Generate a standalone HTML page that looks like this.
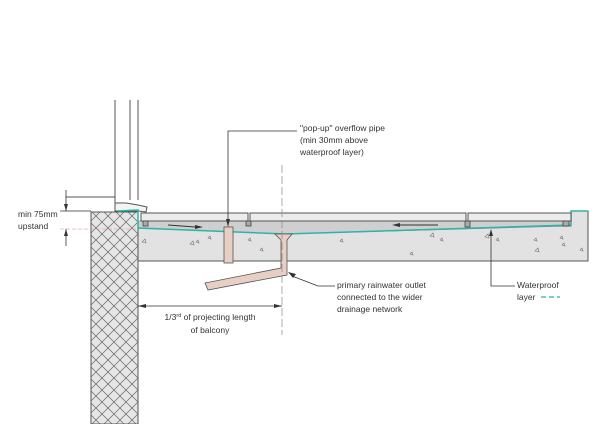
<!DOCTYPE html>
<html><head><meta charset="utf-8"><style>
html,body{margin:0;padding:0;background:#fff;}
svg{display:block;}
text{font-family:"Liberation Sans",sans-serif;font-size:8.5px;fill:#333;}
</style></head><body>
<svg width="601" height="424" viewBox="0 0 601 424" xmlns="http://www.w3.org/2000/svg">
<defs>
<pattern id="hx" width="12" height="12" patternUnits="userSpaceOnUse">
<rect width="12" height="12" fill="#e6e6e6"/>
<path d="M0 0L12 12M12 0L0 12" stroke="#666" stroke-width="0.7"/>
</pattern>
</defs>
<!-- window frame -->
<g stroke="#555" stroke-width="1" fill="none">
<line x1="115" y1="100" x2="115" y2="197"/>
<line x1="130" y1="100" x2="130" y2="200"/>
<line x1="138" y1="100" x2="138" y2="200"/>
<line x1="66" y1="197" x2="115" y2="197"/>
<path d="M115 197 L115 203 L126 203 L138 205 L147 207 L146 212 L138 211 L115 211 Z" fill="#f4f4f4"/>
</g>
<!-- wall -->
<rect x="91" y="212" width="47" height="212" fill="url(#hx)" stroke="#555" stroke-width="1"/>
<line x1="60" y1="229" x2="138" y2="229" stroke="#d88" stroke-width="0.6" stroke-dasharray="4,2"/>
<!-- slab -->
<path d="M138 228 L571 226 L571 211 L588 211 L588 261 L138 261 Z" fill="#e2e2e2" stroke="#555" stroke-width="1"/>
<!-- screed wedge -->
<path d="M138 221 L571 221 L571 226 L285 234 L138 228 Z" fill="#cfcfcf" stroke="#777" stroke-width="0.6"/>
<!-- waterproof -->
<path d="M118 211 L138 210 L138 228 L285 234 L571 225 L571 211 L588 211" fill="none" stroke="#2bb5a8" stroke-width="1.5"/>
<!-- paving -->
<g fill="#ececec" stroke="#555" stroke-width="1">
<rect x="141" y="213" width="107" height="8"/>
<rect x="250" y="213" width="216" height="8"/>
<rect x="468" y="213" width="103" height="8"/>
</g>
<g fill="#aaa" stroke="#444" stroke-width="0.8">
<rect x="143" y="221" width="5" height="5"/>
<rect x="246" y="221" width="5" height="5"/>
<rect x="465" y="221" width="5" height="6"/>
<rect x="563" y="221" width="6" height="5"/>
</g>
<!-- flow arrows -->
<line x1="168" y1="225" x2="195" y2="227" stroke="#333"/><path d="M195 225 L203 227 L195 229Z" fill="#333"/>
<line x1="400" y1="225" x2="438" y2="225" stroke="#333"/><path d="M400 223 L392 225 L400 227Z" fill="#333"/>
<!-- aggregate marks -->
<g fill="none" stroke="#777" stroke-width="0.6">
<path d="M142 242l3 -3l1 4z M190 244l3-3l1 4z M196 242l2-2l1 3z M208 238l2-2l1 3z M248 240l2-2l1 3z M260 250l2-2l1 3z M340 241l2-2l1 3z M430 236l3-3l1 4z M440 240l2-2l1 3z M485 237l3-3l1 4z M496 240l2-2l1 3z M534 240l2-2l1 3z M535 251l3-3l1 4z M562 245l2-2l1 3z M580 250l2-2l1 3z M410 254l2-2l1 3z M560 238l2-2l1 3z"/>
</g>
<!-- pop-up pipe -->
<rect x="224" y="227" width="9" height="36" fill="#e8cfc6" stroke="#555" stroke-width="0.8"/>
<!-- outlet -->
<path d="M275 234 L292 234 L287 240 L287 275 L208 290 L205 283 L281 268 L281 240 Z" fill="#e8cfc6" stroke="#555" stroke-width="0.8"/>
<!-- centerline -->
<line x1="282" y1="165" x2="282" y2="335" stroke="#888" stroke-width="0.7" stroke-dasharray="8,3"/>
<!-- dimension -->
<line x1="138" y1="306" x2="282" y2="306" stroke="#333" stroke-width="0.8"/>
<path d="M138 306 L146 304 L146 308Z M282 306 L274 304 L274 308Z" fill="#333"/>
<text x="210" y="320" text-anchor="middle">1/3<tspan font-size="5.5" dy="-3">rd</tspan><tspan dy="3"> of projecting length</tspan></text>
<text x="210" y="333" text-anchor="middle">of balcony</text>
<!-- upstand dim -->
<g stroke="#333" stroke-width="0.8">
<line x1="66" y1="190" x2="66" y2="211"/><line x1="66" y1="229" x2="66" y2="246"/>
<line x1="60" y1="211" x2="91" y2="211"/>
</g>
<path d="M66 211 L64 204 L68 204Z M66 229 L64 236 L68 236Z" fill="#333"/>
<text x="18" y="217">min 75mm</text>
<text x="18" y="229">upstand</text>
<!-- pop-up leader -->
<polyline points="228,221 228,131 297,131" fill="none" stroke="#333" stroke-width="0.8"/>
<path d="M228 227 L226 219 L230 219Z" fill="#333"/>
<text x="300" y="131">"pop-up" overflow pipe</text>
<text x="300" y="143">(min 30mm above</text>
<text x="300" y="155">waterproof layer)</text>
<!-- primary leader -->
<polyline points="292,276 318,286 335,286" fill="none" stroke="#333" stroke-width="0.8"/>
<path d="M288 272 L296 274 L293 278Z" fill="#333"/>
<text x="337" y="288">primary rainwater outlet</text>
<text x="337" y="300">connected to the wider</text>
<text x="337" y="312">drainage network</text>
<!-- waterproof leader -->
<polyline points="491,235 491,286 515,286" fill="none" stroke="#333" stroke-width="0.8"/>
<path d="M491 229 L489 236 L493 236Z" fill="#333"/>
<text x="517" y="288">Waterproof</text>
<text x="517" y="300">layer</text>
<line x1="541" y1="297" x2="560" y2="297" stroke="#2bb5a8" stroke-width="1.2" stroke-dasharray="5,3"/>
</svg>
</body></html>
